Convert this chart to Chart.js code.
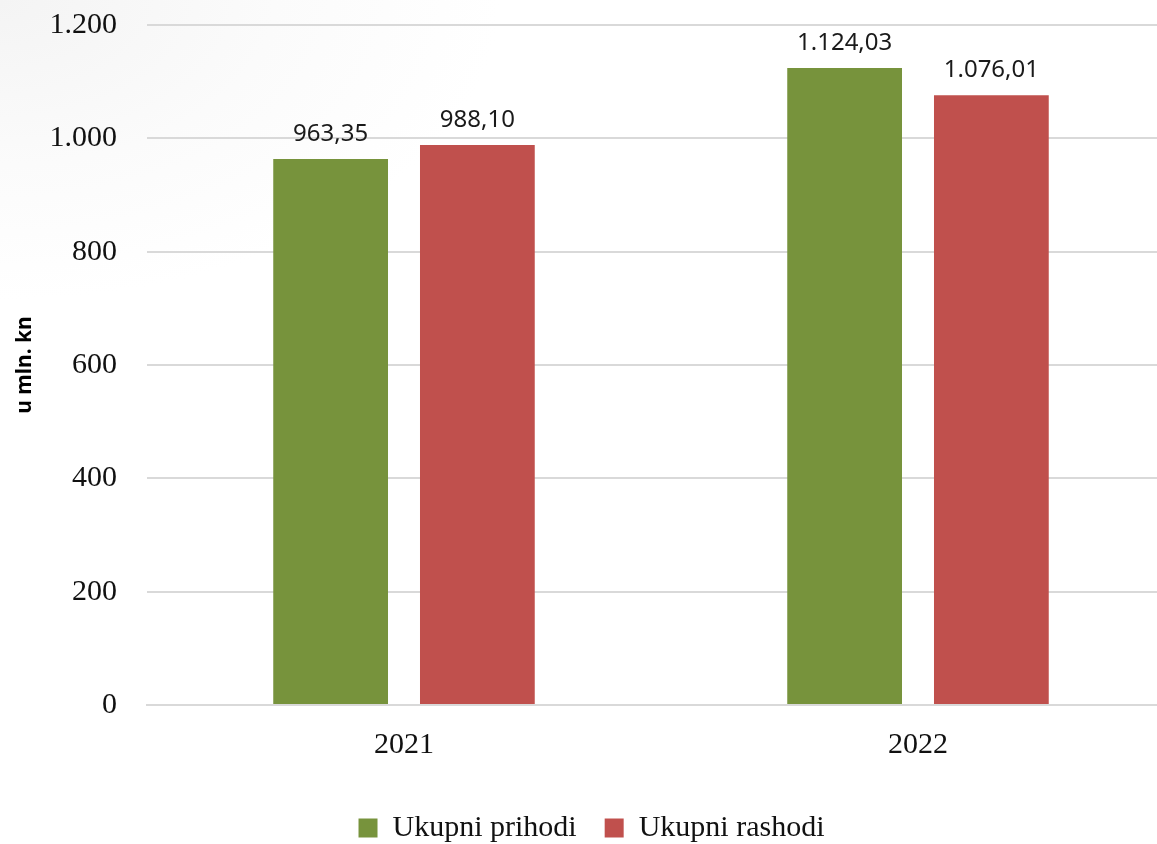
<!DOCTYPE html>
<html>
<head>
<meta charset="utf-8">
<script src="https://cdn.jsdelivr.net/npm/chart.js@4/dist/chart.umd.min.js"></script>
<style>
  html, body { margin: 0; padding: 0; overflow: hidden; }
  body { background: radial-gradient(ellipse 500px 300px at 0 0, #f4f4f4 0%, #fbfbfb 55%, #ffffff 100%); }
  #wrap { position: relative; width: 1175px; height: 844px; }
</style>
</head>
<body>
<div id="wrap"><canvas id="c"></canvas></div>
<script>
const categories = ['2021', '2022'];
const seriesNames = ['Ukupni prihodi', 'Ukupni rashodi'];
const prihodi = [963.35, 1124.03];
const rashodi = [988.10, 1076.01];
const yTicks = [0, 200, 400, 600, 800, 1000, 1200];
const yTitle = 'u mln. kn';

function fmtThousands(v) {
  const s = String(Math.round(v));
  return s.replace(/\B(?=(\d{3})+(?!\d))/g, '.');
}
function fmtValue(v) {
  const fixed = v.toFixed(2);
  const [i, d] = fixed.split('.');
  return fmtThousands(Number(i)) + ',' + d;
}

const valueLabels = {
  id: 'valueLabels',
  afterDatasetsDraw(chart) {
    const ctx = chart.ctx;
    ctx.save();
    ctx.font = '24px "Noto Sans"';
    ctx.fillStyle = '#1a1a1a';
    ctx.textAlign = 'center';
    ctx.textBaseline = 'alphabetic';
    chart.data.datasets.forEach((ds, di) => {
      const meta = chart.getDatasetMeta(di);
      meta.data.forEach((bar, i) => {
        ctx.fillText(fmtValue(ds.data[i]), bar.x, bar.y - 18);
      });
    });
    ctx.restore();
  }
};

new Chart(document.getElementById('c'), {
  type: 'bar',
  data: {
    labels: categories,
    datasets: [
      { label: seriesNames[0], data: prihodi, backgroundColor: '#77933C', borderWidth: 0 },
      { label: seriesNames[1], data: rashodi, backgroundColor: '#C0504D', borderWidth: 0 }
    ]
  },
  options: {
    responsive: true,
    maintainAspectRatio: false,
    devicePixelRatio: 1,
    animation: false,
    layout: { padding: { left: 8, top: 25, right: 0, bottom: -9 } },
    datasets: { bar: { categoryPercentage: 0.571, barPercentage: 0.782 } },
    scales: {
      x: {
        grid: { display: false, drawTicks: false },
        border: { display: true, color: '#d9d9d9', width: 2 },
        ticks: { font: { family: '"Liberation Serif"', size: 30 }, color: '#111', padding: 22 }
      },
      y: {
        min: 0, max: 1200,
        afterBuildTicks(scale) { scale.ticks = yTicks.map(v => ({ value: v })); },
        afterFit(scale) { scale.width = 139; scale.paddingTop = 0; scale.paddingBottom = 0; },
        grid: { color: '#d9d9d9', lineWidth: 2, drawTicks: false },
        border: { display: false },
        ticks: {
          font: { family: '"Liberation Serif"', size: 30 }, color: '#111', padding: 30,
          callback: v => fmtThousands(v)
        },
        title: {
          display: true, text: yTitle, color: '#000',
          font: { family: '"Noto Sans"', size: 21, weight: 'bold' },
          padding: { top: 4, bottom: 10 }
        }
      }
    },
    plugins: {
      legend: {
        position: 'bottom',
        labels: {
          font: { family: '"Liberation Serif"', size: 30 }, color: '#111',
          boxWidth: 19, boxHeight: 19, padding: 28
        }
      },
      tooltip: { enabled: false }
    }
  },
  plugins: [valueLabels]
});
</script>
</body>
</html>
